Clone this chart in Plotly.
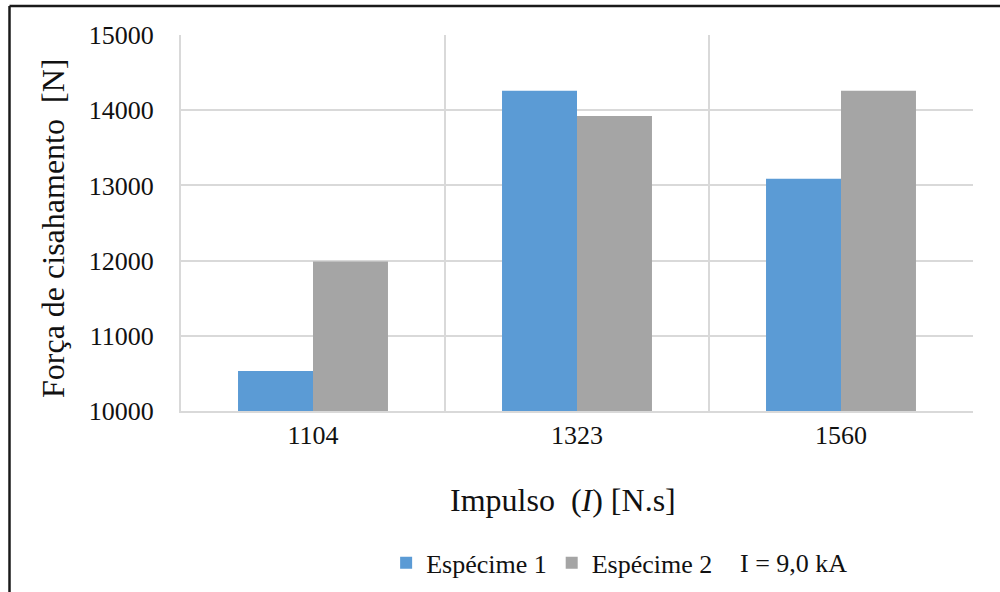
import plotly.graph_objects as go

# Shear force by impulse level for two specimens
impulsos = ["1104", "1323", "1560"]
especime_1 = [10533, 14257, 13089]
especime_2 = [11987, 13924, 14257]

serie_nomes = ["Espécime 1", "Espécime 2"]
cores = ["#5b9bd5", "#a5a5a5"]

fonte = "Liberation Serif"
cor_grade = "#d9d9d9"

fig = go.Figure()
for nome, valores, cor in zip(serie_nomes, [especime_1, especime_2], cores):
    fig.add_trace(go.Bar(
        x=impulsos, y=valores, name=nome,
        marker=dict(color=cor, line=dict(width=0)),
    ))

fig.update_layout(
    width=1000, height=592,
    margin=dict(l=181, r=27, t=35, b=181, autoexpand=False),
    paper_bgcolor="white", plot_bgcolor="white",
    barmode="group", bargap=0.432, bargroupgap=0,
    font=dict(family=fonte, color="#111"),
    showlegend=True,
    legend=dict(
        orientation="h", x=0.259, y=-0.404, xanchor="left", yanchor="middle",
        font=dict(family=fonte, size=26, color="#111"),
        traceorder="normal",
    ),
    xaxis=dict(
        type="category", tickson="boundaries",
        showgrid=True, gridcolor=cor_grade, gridwidth=2,
        showline=True, linecolor=cor_grade, linewidth=2,
        ticks="outside", ticklen=18, tickcolor="rgba(0,0,0,0)",
        tickfont=dict(family=fonte, size=26, color="#111"),
        zeroline=False,
    ),
    yaxis=dict(
        range=[10000, 15000], dtick=1000, tickformat="d",
        showgrid=True, gridcolor=cor_grade, gridwidth=2,
        showline=True, linecolor=cor_grade, linewidth=2,
        ticks="outside", ticklen=20, tickcolor="rgba(0,0,0,0)",
        tickfont=dict(family=fonte, size=26, color="#111"),
        zeroline=False,
    ),
    annotations=[
        dict(text="Impulso  (<i>I</i>) [N.s]", xref="paper", yref="paper",
             x=(563 - 181) / 792, y=-(500 - 411) / 376, xanchor="center", yanchor="middle",
             showarrow=False, font=dict(family=fonte, size=32, color="#111")),
        dict(text="Força de cisahamento  [N]", xref="paper", yref="paper",
             x=(53 - 181) / 792, y=(411 - 229) / 376, xanchor="center", yanchor="middle",
             textangle=-90, showarrow=False, font=dict(family=fonte, size=32, color="#111")),
        dict(text="I = 9,0 kA", xref="paper", yref="paper",
             x=(738 - 181) / 792, y=-(563 - 411) / 376, xanchor="left", yanchor="middle",
             showarrow=False, font=dict(family=fonte, size=26, color="#111")),
    ],
    shapes=[
        dict(type="line", xref="paper", yref="paper",
             x0=(9.5 - 181) / 792, x1=(9.5 - 181) / 792,
             y0=(411 - 6) / 376, y1=(411 - 600) / 376,
             line=dict(color="#1a1a1a", width=2.5)),
        dict(type="line", xref="paper", yref="paper",
             x0=(9.5 - 181) / 792, x1=(1010 - 181) / 792,
             y0=(411 - 6) / 376, y1=(411 - 6) / 376,
             line=dict(color="#1a1a1a", width=2.5)),
    ],
)

fig.write_html("out.html")
